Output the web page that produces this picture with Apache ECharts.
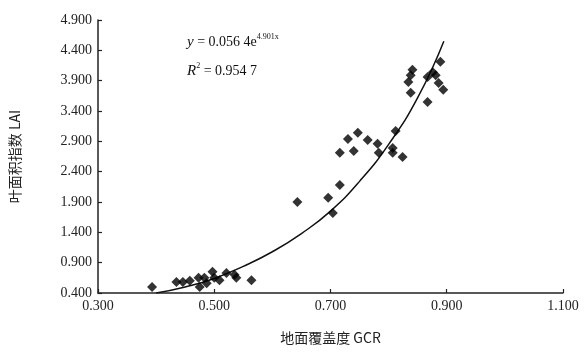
<!DOCTYPE html>
<html>
<head>
<meta charset="utf-8">
<script src="https://cdn.jsdelivr.net/npm/echarts@6/dist/echarts.min.js"></script>
<style>
  html, body { margin: 0; padding: 0; background: #fff; }
  #chart { width: 588px; height: 353px; }
</style>
</head>
<body>
<div id="chart"></div>
<script>
// GCR vs LAI
const gcr = [
  0.393, 0.435, 0.446, 0.458, 0.473, 0.475, 0.483, 0.487, 0.497, 0.500,
  0.509, 0.521, 0.535, 0.538, 0.564,
  0.643, 0.696, 0.704, 0.716,
  0.730, 0.747, 0.716, 0.740, 0.764, 0.781, 0.783, 0.807, 0.807, 0.812, 0.824,
  0.889, 0.841, 0.838, 0.834, 0.867, 0.876, 0.881, 0.886, 0.894, 0.838, 0.867
]
const lai = [
  0.50, 0.58, 0.58, 0.60, 0.65, 0.50, 0.65, 0.56, 0.75, 0.65,
  0.61, 0.73, 0.70, 0.65, 0.61,
  1.90, 1.97, 1.72, 2.18,
  2.94, 3.04, 2.71, 2.74, 2.92, 2.86, 2.71, 2.79, 2.71, 3.07, 2.64,
  4.21, 4.08, 3.99, 3.88, 3.96, 4.04, 3.99, 3.86, 3.75, 3.70, 3.55
]
// exponential trend line
const fitX = [0.400, 0.450, 0.500, 0.550, 0.600, 0.650, 0.700, 0.750, 0.800, 0.850, 0.895]
const fitY = [0.40, 0.50, 0.64, 0.84, 1.08, 1.38, 1.75, 2.24, 2.85, 3.62, 4.55]

const xTicks = [0.3, 0.5, 0.7, 0.9, 1.1]
const yTicks = [0.4, 0.9, 1.4, 1.9, 2.4, 2.9, 3.4, 3.9, 4.4, 4.9]

const chart = echarts.init(document.getElementById('chart'))
const serif = '"Liberation Serif", "DejaVu Serif", serif'
const cjk = '"Noto Sans CJK SC", sans-serif'
const axisColor = '#222'

const eqStyle = (text) => ({
  text,
  font: '14px ' + serif,
  fill: '#111',
  lineHeight: 18,
  rich: {
    i: { fontStyle: 'italic', fontFamily: serif, fontSize: 15, lineHeight: 18 },
    sup: { fontSize: 8, fontFamily: serif, verticalAlign: 'top', lineHeight: 18 },
  },
})

chart.setOption({
  animation: false,
  grid: { left: 96, right: 25, top: 20, bottom: 60 },
  xAxis: {
    type: 'value',
    min: 0.3,
    max: 1.1,
    name: '地面覆盖度 GCR',
    nameLocation: 'middle',
    nameGap: 38,
    nameTextStyle: { fontFamily: cjk, fontSize: 14, color: axisColor },
    axisLine: { lineStyle: { color: axisColor, width: 1.5 } },
    axisTick: { inside: true, length: 4, customValues: xTicks, lineStyle: { color: axisColor, width: 1.2 } },
    axisLabel: {
      customValues: xTicks,
      formatter: v => v.toFixed(3),
      fontFamily: serif, fontSize: 14, color: axisColor, margin: 6,
    },
    splitLine: { show: false },
  },
  yAxis: {
    type: 'value',
    min: 0.4,
    max: 4.9,
    name: '叶面积指数 LAI',
    nameLocation: 'middle',
    nameGap: 76,
    nameRotate: 90,
    nameTextStyle: { fontFamily: cjk, fontSize: 14, color: axisColor },
    axisLine: { show: true, lineStyle: { color: axisColor, width: 1.5 } },
    axisTick: { show: true, inside: true, length: 4, customValues: yTicks, lineStyle: { color: axisColor, width: 1.2 } },
    axisLabel: {
      customValues: yTicks,
      formatter: v => v.toFixed(3),
      fontFamily: serif, fontSize: 14, color: axisColor, margin: 6,
    },
    splitLine: { show: false },
  },
  graphic: [
    { type: 'text', left: 187, top: 33, style: eqStyle('{i|y} = 0.056 4e{sup|4.901x}') },
    { type: 'text', left: 187, top: 62, style: eqStyle('{i|R}{sup|2} = 0.954 7') },
  ],
  series: [
    {
      type: 'line',
      data: fitX.map((x, i) => [x, fitY[i]]),
      smooth: true,
      showSymbol: false,
      lineStyle: { color: '#111', width: 1.5 },
      z: 2,
    },
    {
      type: 'scatter',
      data: gcr.map((x, i) => [x, lai[i]]),
      symbol: 'diamond',
      symbolSize: 10,
      itemStyle: { color: '#000' },
      z: 3,
    },
  ],
})
</script>
</body>
</html>
